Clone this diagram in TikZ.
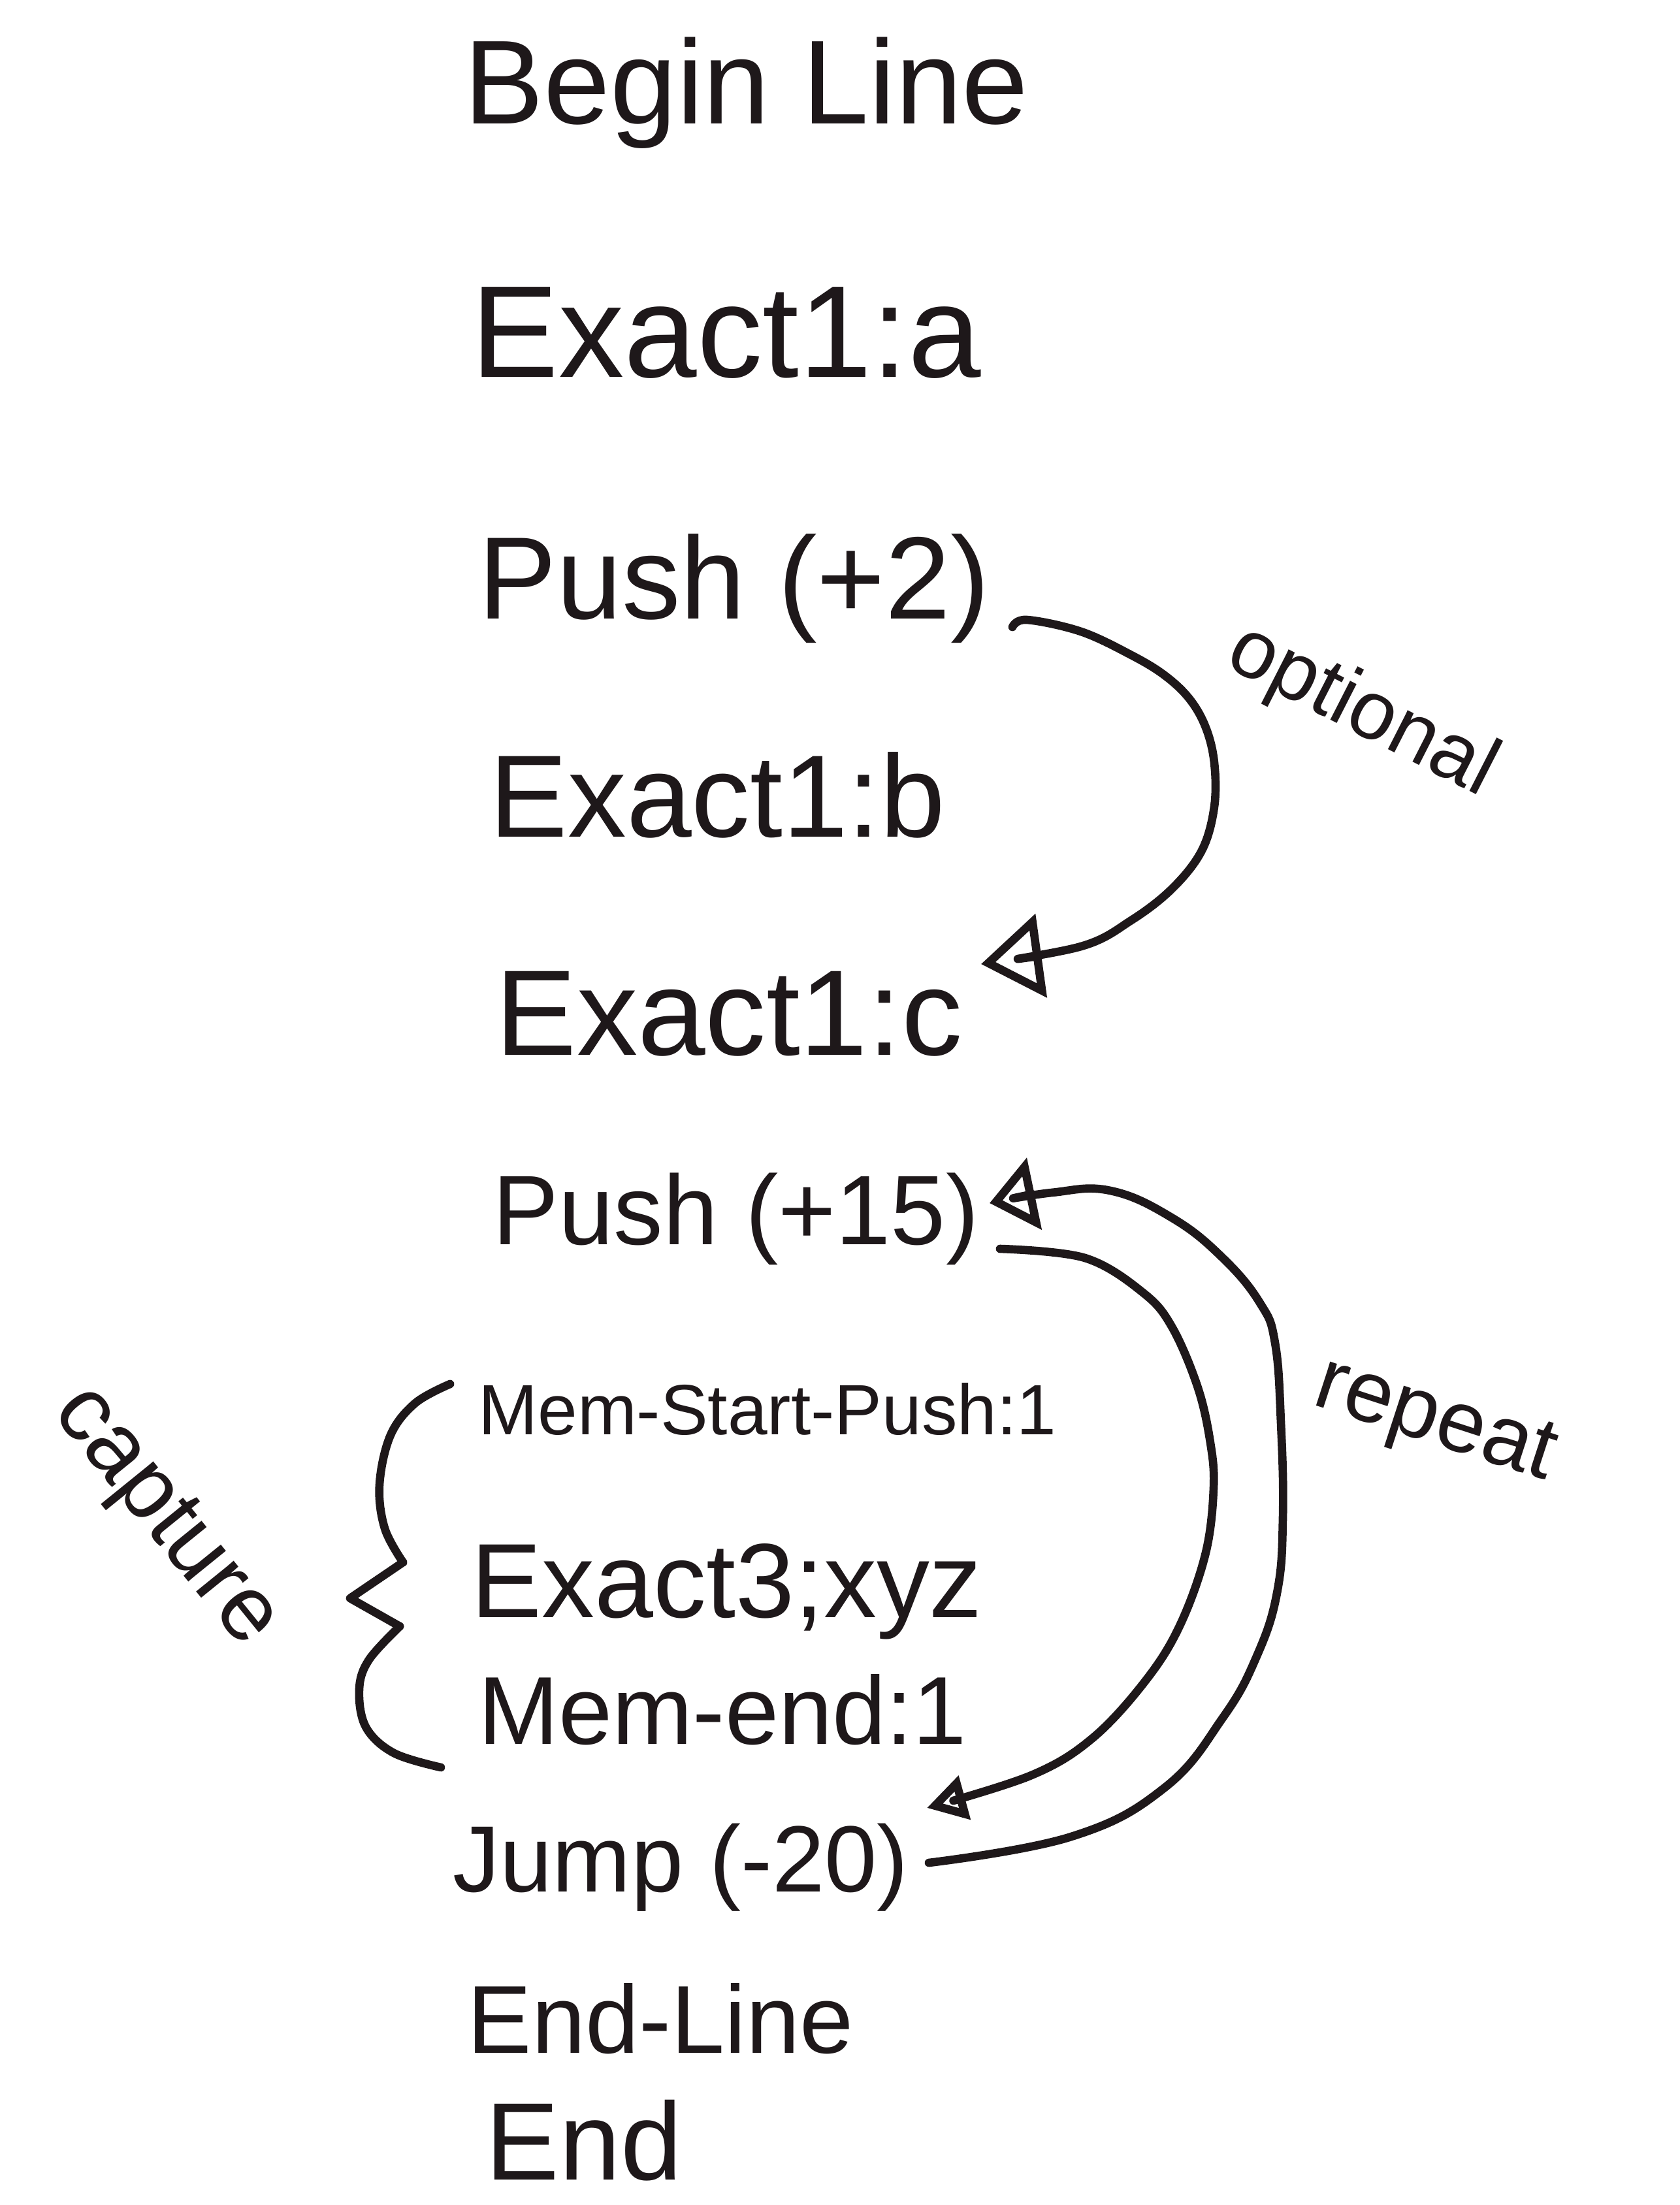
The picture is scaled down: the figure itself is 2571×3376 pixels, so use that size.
\documentclass[tikz,border=0pt]{standalone}
\usepackage{fontspec}
\setmainfont{Liberation Sans}
\usetikzlibrary{arrows.meta}
\definecolor{ink}{RGB}{30,24,26}
\begin{document}
\begin{tikzpicture}[x=0.01cm,y=-0.01cm,
  txt/.style={anchor=base west, inner sep=0pt, text=ink, font=\fontsize{#1}{#1}\selectfont},
  tag/.style={inner sep=0pt, text=ink, font=\fontsize{#1}{#1}\selectfont},
  conn/.style={draw=ink, line width=3.6pt, line cap=round, line join=round},
  bigtip/.style={-{Triangle[open,length=0.93cm,width=1.27cm]}},
  midtip/.style={-{Triangle[open,length=0.7cm,width=1.1cm]}},
  smalltip/.style={-{Triangle[open,length=0.6cm,width=0.67cm]}}]
\useasboundingbox[fill=white] (0,0) rectangle (2571,3376);

% instruction lines
\node[txt=52pt] (begin)    at (710,190)  {Begin Line};
\node[txt=57pt] (exa)      at (721,577)  {Exact1:a};
\node[txt=51pt] (push2)    at (732,947)  {Push (+2)};
\node[txt=51pt] (exb)      at (749,1281) {Exact1:b};
\node[txt=53pt] (exc)      at (758,1615) {Exact1:c};
\node[txt=43pt] (push15)   at (754,1905) {Push (+15)};
\node[txt=31pt] (memstart) at (732,2196) {Mem-Start-Push:1};
\node[txt=46pt] (exxyz)    at (721,2476) {Exact3;xyz};
\node[txt=42pt] (memend)   at (732,2670) {Mem-end:1};
\node[txt=41pt] (jump)     at (693,2896) {Jump (-20)};
\node[txt=42pt] (endline)  at (715,3143) {End-Line};
\node[txt=48pt] (end)      at (743,3337) {End};

% labels
\node[tag=36pt, rotate=-27] (optlbl) at (2085,1090) {optional};
\node[tag=38pt, rotate=-18] (replbl) at (2196,2180) {repeat};
\node[tag=40pt, rotate=-51] (caplbl) at (250,2325) {capture};

% connector end points
\coordinate (optS) at (1550,960);
\coordinate (optE) at (1502,1476);
\coordinate (repS) at (1422,2852);
\coordinate (repE) at (1515,1842);
\coordinate (inS)  at (1531,1912);
\coordinate (inE)  at (1419,2768);

% optional: Push(+2) -> Exact1:c
\draw[conn, bigtip] plot[smooth,tension=0.6] coordinates {(optS) (1572,949) (1655,967) (1732,1003) (1783,1034) (1821,1070) (1846,1114) (1859,1168) (1859,1235) (1840,1302) (1795,1360) (1732,1409) (1655,1449) (optE)};

% repeat: Jump(-20) -> Push(+15)
\draw[conn, midtip] plot[smooth,tension=0.7] coordinates {(repS) (1640,2812) (1783,2737) (1872,2630) (1923,2538) (1955,2439) (1964,2324) (1961,2178) (1952,2056) (1929,1995) (1872,1926) (1795,1865) (1700,1823) (1610,1826) (repE)};

% Push(+15) -> Jump(-20)
\draw[conn, smalltip] plot[smooth,tension=0.6] coordinates {(inS) (1661,1926) (1751,1980) (1795,2033) (1834,2125) (1853,2209) (1858,2278) (1846,2377) (1808,2485) (1757,2569) (1674,2660) (1579,2718) (inE)};

% capture brace
\draw[conn] plot[smooth,tension=0.6] coordinates {(689,2119) (636,2148) (598,2197) (581,2273) (589,2340) (617,2392)};
\draw[conn] (617,2392) -- (536,2447) -- (612,2490);
\draw[conn] plot[smooth,tension=0.6] coordinates {(612,2490) (565,2541) (550,2586) (560,2644) (603,2684) (675,2706)};
\end{tikzpicture}
\end{document}
